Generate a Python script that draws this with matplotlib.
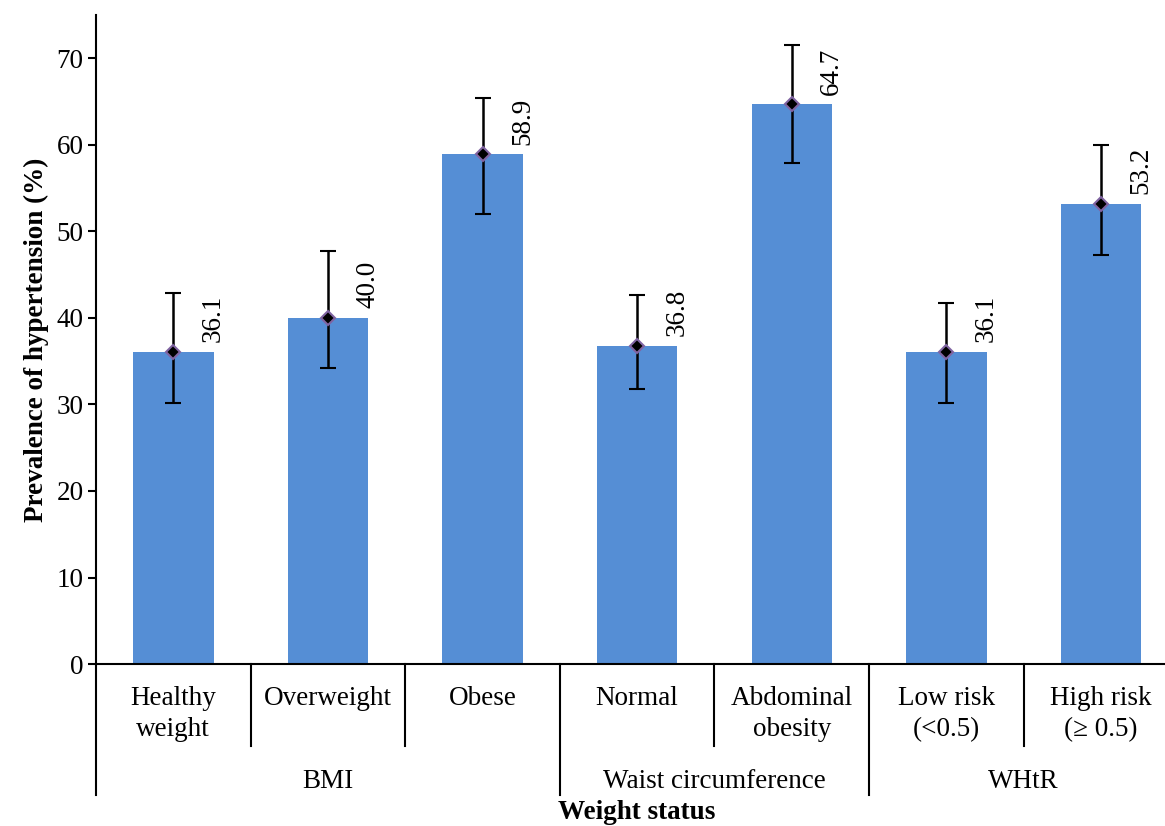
import matplotlib.pyplot as plt
import numpy as np

plt.rcParams['font.family'] = ['Liberation Serif', 'DejaVu Serif']

# Dados
categorias = ['Healthy\nweight', 'Overweight', 'Obese', 'Normal',
              'Abdominal\nobesity', 'Low risk\n(<0.5)', 'High risk\n(\u2265 0.5)']
prevalencia = np.array([36.1, 40.0, 58.9, 36.8, 64.7, 36.1, 53.2])
ic_inferior = np.array([30.2, 34.2, 52.0, 31.8, 57.9, 30.2, 47.3])
ic_superior = np.array([42.9, 47.7, 65.4, 42.6, 71.5, 41.7, 60.0])
grupos = ['BMI', 'Waist circumference', 'WHtR']
tamanho_grupos = [3, 2, 2]

x = np.arange(len(categorias))
erro = np.vstack([prevalencia - ic_inferior, ic_superior - prevalencia])

fig = plt.figure(figsize=(11.65, 8.26), dpi=100)
ax = fig.add_axes([0.0824, 0.196, 0.929, 0.786])

# Barras
ax.bar(x, prevalencia, width=0.52, color='#558ED5', zorder=1)

# Barras de erro e marcadores
ax.errorbar(x, prevalencia, yerr=erro, fmt='D', color='black', ecolor='black',
            elinewidth=1.8, capsize=5.5, capthick=2.6, markersize=7,
            markerfacecolor='black', markeredgecolor='#8064A2',
            markeredgewidth=1.5, zorder=3)

# Rótulos dos valores
for xi, v in zip(x, prevalencia):
    ax.text(xi + 0.30, v + 1.1, f'{v:.1f}', rotation=90, rotation_mode='anchor',
            ha='left', va='baseline', fontsize=19.5)

# Eixos
ax.set_xlim(-0.5, len(categorias) - 0.5)
ax.set_ylim(0, 75)
ax.set_yticks(np.arange(0, 71, 10))
ax.set_xticks([])
ax.spines['top'].set_visible(False)
ax.spines['right'].set_visible(False)
ax.spines['left'].set_linewidth(1.5)
ax.spines['bottom'].set_linewidth(1.5)
ax.tick_params(axis='y', direction='out', length=6, width=1.5, pad=3,
               labelsize=19.5)
ax.set_ylabel('Prevalence of hypertension (%)', fontsize=19.5,
              fontweight='bold', labelpad=5)

tr = ax.get_xaxis_transform()

# Rótulos das categorias
for xi, nome in zip(x, categorias):
    ax.text(xi, -0.034, nome, transform=tr, ha='center', va='top',
            fontsize=19.5, linespacing=1.3)

# Separadores e rótulos dos grupos
inicio = 0
ax.plot([-0.5, -0.5], [0, -0.2018], transform=tr, color='black', lw=1.5,
        clip_on=False)
for nome, n in zip(grupos, tamanho_grupos):
    fim = inicio + n
    for s in range(inicio + 1, fim):
        ax.plot([s - 0.5, s - 0.5], [0, -0.1263], transform=tr, color='black',
                lw=1.5, clip_on=False)
    if fim < len(categorias):
        ax.plot([fim - 0.5, fim - 0.5], [0, -0.2018], transform=tr,
                color='black', lw=1.5, clip_on=False)
    centro = (inicio + fim - 1) / 2
    ax.text(centro, -0.191, nome, transform=tr, ha='center', va='baseline',
            fontsize=19.5)
    inicio = fim

ax.text(3.0, -0.238, 'Weight status', transform=tr, ha='center',
        va='baseline', fontsize=19.5, fontweight='bold')

plt.savefig('out.png', dpi=100)
